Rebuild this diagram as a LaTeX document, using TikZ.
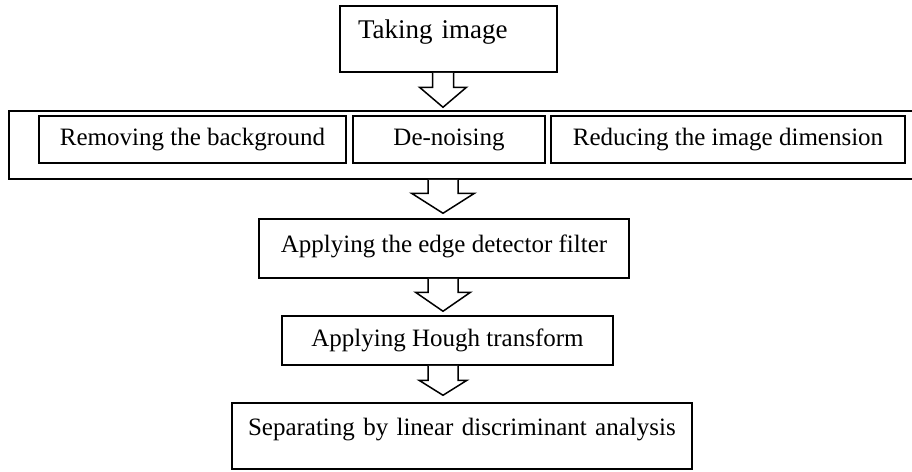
\documentclass[tikz,border=0pt]{standalone}
\usepackage{fontspec}
\setmainfont{Liberation Serif}
\usetikzlibrary{calc}

\tikzset{
  box/.style={draw, line width=1.5pt, inner sep=0pt, font=\fontsize{25}{30}\selectfont},
  topbox/.style={box, align=left, inner ysep=0pt, text height=32pt, text depth=34pt},
  blockarrow/.style={draw, line width=1.5pt, line join=miter, fill=white}
}

\begin{document}
\begin{tikzpicture}[x=1pt, y=-1pt]
    \useasboundingbox (0,0) rectangle (912,471);

    % first step
    \node[topbox, text width=181pt, inner xsep=18pt, font=\fontsize{27}{32}\selectfont] (take) at (448.5,39) {Taking image};

    % preprocessing group
    \node[box, minimum width=907pt, minimum height=68pt] (outer) at (462.5,145) {};
    \node[box, minimum width=307pt, minimum height=47pt] (rmbg) at (192.5,139.5) {Removing the background};
    \node[box, minimum width=192pt, minimum height=47pt] (denoise) at (449,139.5) {De-noising};
    \node[box, minimum width=354pt, minimum height=47pt] (reduce) at (728,139.5) {Reducing the image dimension};

    % later steps
    \node[box, minimum width=370pt, minimum height=59pt, text depth=9pt] (edge) at (444,248.5) {Applying the edge detector filter};
    \node[box, minimum width=331pt, minimum height=49pt] (hough) at (447.5,340.5) {Applying Hough transform};
    \node[topbox, text width=428pt, inner xsep=16pt] (lda) at (462,436) {Separating by linear discriminant analysis};

    % hollow arrows between the steps
    \foreach \a/\b/\s/\h/\g/\l in {take/outer/10.5/23.5/3/20, outer/edge/15/31.5/5/20,
                                   edge/hough/15/27.5/4/19, hough/lda/15/24/7/15} {
        \draw[blockarrow] let \p1=(\a.south), \p2=(\b.north) in
            (443pt-\s*1pt,\y1) -- (443pt-\s*1pt,\y2+\g*1pt+\l*1pt)
            -- (443pt-\h*1pt,\y2+\g*1pt+\l*1pt) -- (443pt,\y2+\g*1pt)
            -- (443pt+\h*1pt,\y2+\g*1pt+\l*1pt) -- (443pt+\s*1pt,\y2+\g*1pt+\l*1pt)
            -- (443pt+\s*1pt,\y1);
    }
\end{tikzpicture}
\end{document}
